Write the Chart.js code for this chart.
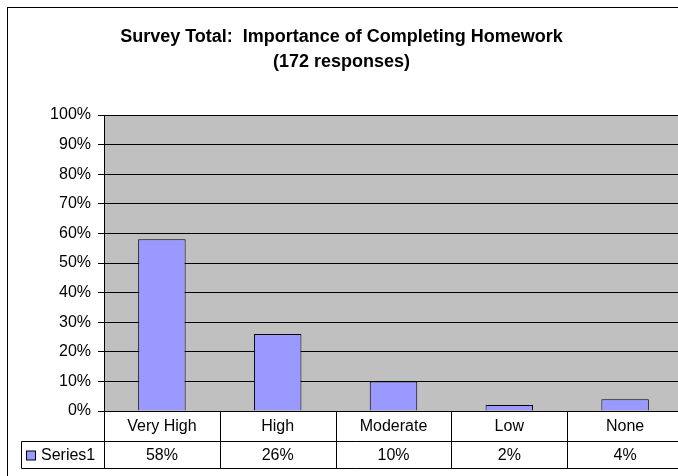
<!DOCTYPE html>
<html>
<head>
<meta charset="utf-8">
<script src="https://cdn.jsdelivr.net/npm/chart.js@4/dist/chart.umd.min.js"></script>
<style>
  html, body { margin: 0; padding: 0; background: #fff; overflow: hidden; }
  #wrap { position: relative; width: 690px; height: 476px; }
</style>
</head>
<body>
<div id="wrap"><canvas id="surveyChart"></canvas></div>
<script>
const categories = ["Very High", "High", "Moderate", "Low", "None"];
const series1 = [58, 26, 10, 2, 4];
const seriesName = "Series1";
const titleLines = ["Survey Total:  Importance of Completing Homework", "(172 responses)"];

const FONT = "'Liberation Sans', Arial, sans-serif";
Chart.defaults.font.family = FONT;
Chart.defaults.color = "#000";

// grey plot area + outer frame
const backdrop = {
  id: "backdrop",
  beforeDraw(chart) {
    const { ctx, chartArea: a } = chart;
    ctx.save();
    ctx.fillStyle = "#fff";
    ctx.fillRect(0, 0, chart.width, chart.height);
    ctx.strokeStyle = "#000";
    ctx.lineWidth = 1;
    ctx.strokeRect(7.5, 7.5, chart.width + 20, chart.height + 20);
    ctx.fillStyle = "#c0c0c0";
    ctx.fillRect(a.left, a.top, a.right - a.left, a.bottom - a.top);
    ctx.strokeStyle = "#808080";
    ctx.strokeRect(a.left + 0.5, a.top + 0.5, a.right - a.left, a.bottom - a.top);
    ctx.restore();
  }
};

// data table under the x axis
const dataTable = {
  id: "dataTable",
  afterDraw(chart) {
    const { ctx, chartArea: a } = chart;
    const xs = chart.scales.x;
    const y1 = a.bottom + 30.5, y2 = a.bottom + 57.5;
    const left = 21.5;
    ctx.save();
    ctx.strokeStyle = "#000";
    ctx.lineWidth = 1;
    ctx.beginPath();
    ctx.moveTo(left, y1); ctx.lineTo(chart.width, y1);
    ctx.moveTo(left, y2); ctx.lineTo(chart.width, y2);
    ctx.moveTo(left, y1); ctx.lineTo(left, y2);
    ctx.moveTo(a.left + 0.5, a.bottom); ctx.lineTo(a.left + 0.5, y2);
    for (let i = 0; i < categories.length; i++) {
      const bx = i < categories.length - 1
        ? Math.round((xs.getPixelForValue(i) + xs.getPixelForValue(i + 1)) / 2) + 0.5
        : Math.round(a.right) + 0.5;
      ctx.moveTo(bx, a.bottom); ctx.lineTo(bx, y2);
    }
    ctx.stroke();

    ctx.font = "16px " + FONT;
    ctx.fillStyle = "#000";
    ctx.textAlign = "center";
    ctx.textBaseline = "middle";
    const ty = (y1 + y2) / 2 + 1;
    series1.forEach((v, i) => ctx.fillText(v + "%", xs.getPixelForValue(i), ty));

    ctx.fillStyle = "#9999ff";
    ctx.fillRect(26.5, ty - 5, 9, 9);
    ctx.strokeRect(26.5, ty - 5, 9, 9);
    ctx.fillStyle = "#000";
    ctx.textAlign = "left";
    ctx.fillText(seriesName, 41, ty);
    ctx.restore();
  }
};

new Chart("surveyChart", {
  type: "bar",
  data: {
    labels: categories,
    datasets: [{
      label: seriesName,
      data: series1,
      backgroundColor: "#9999ff",
      borderColor: "#000",
      borderWidth: 1,
      barPercentage: 0.41,
      categoryPercentage: 1
    }]
  },
  options: {
    responsive: true,
    maintainAspectRatio: false,
    animation: false,
    layout: { padding: { left: 0, right: 7, top: 0, bottom: 0 } },
    plugins: {
      legend: { display: false },
      tooltip: { enabled: false },
      title: {
        display: true,
        text: titleLines,
        font: { size: 18, weight: "bold", lineHeight: 1.4 },
        color: "#000",
        padding: { top: 24, bottom: 40.6 }
      }
    },
    scales: {
      x: {
        grid: { display: false, drawTicks: false },
        border: { display: true, color: "#000" },
        ticks: { font: { size: 16 }, padding: 6, maxRotation: 0, color: "#000" },
        afterFit(scale) { scale.height = 65; }
      },
      y: {
        min: 0,
        max: 100,
        grid: { color: "#000", tickLength: 6 },
        border: { display: true, color: "#000" },
        ticks: {
          stepSize: 10,
          padding: 7,
          font: { size: 16 },
          color: "#000",
          callback: v => v + "%"
        },
        afterFit(scale) { scale.width = 104; }
      }
    }
  },
  plugins: [backdrop, dataTable]
});
</script>
</body>
</html>
